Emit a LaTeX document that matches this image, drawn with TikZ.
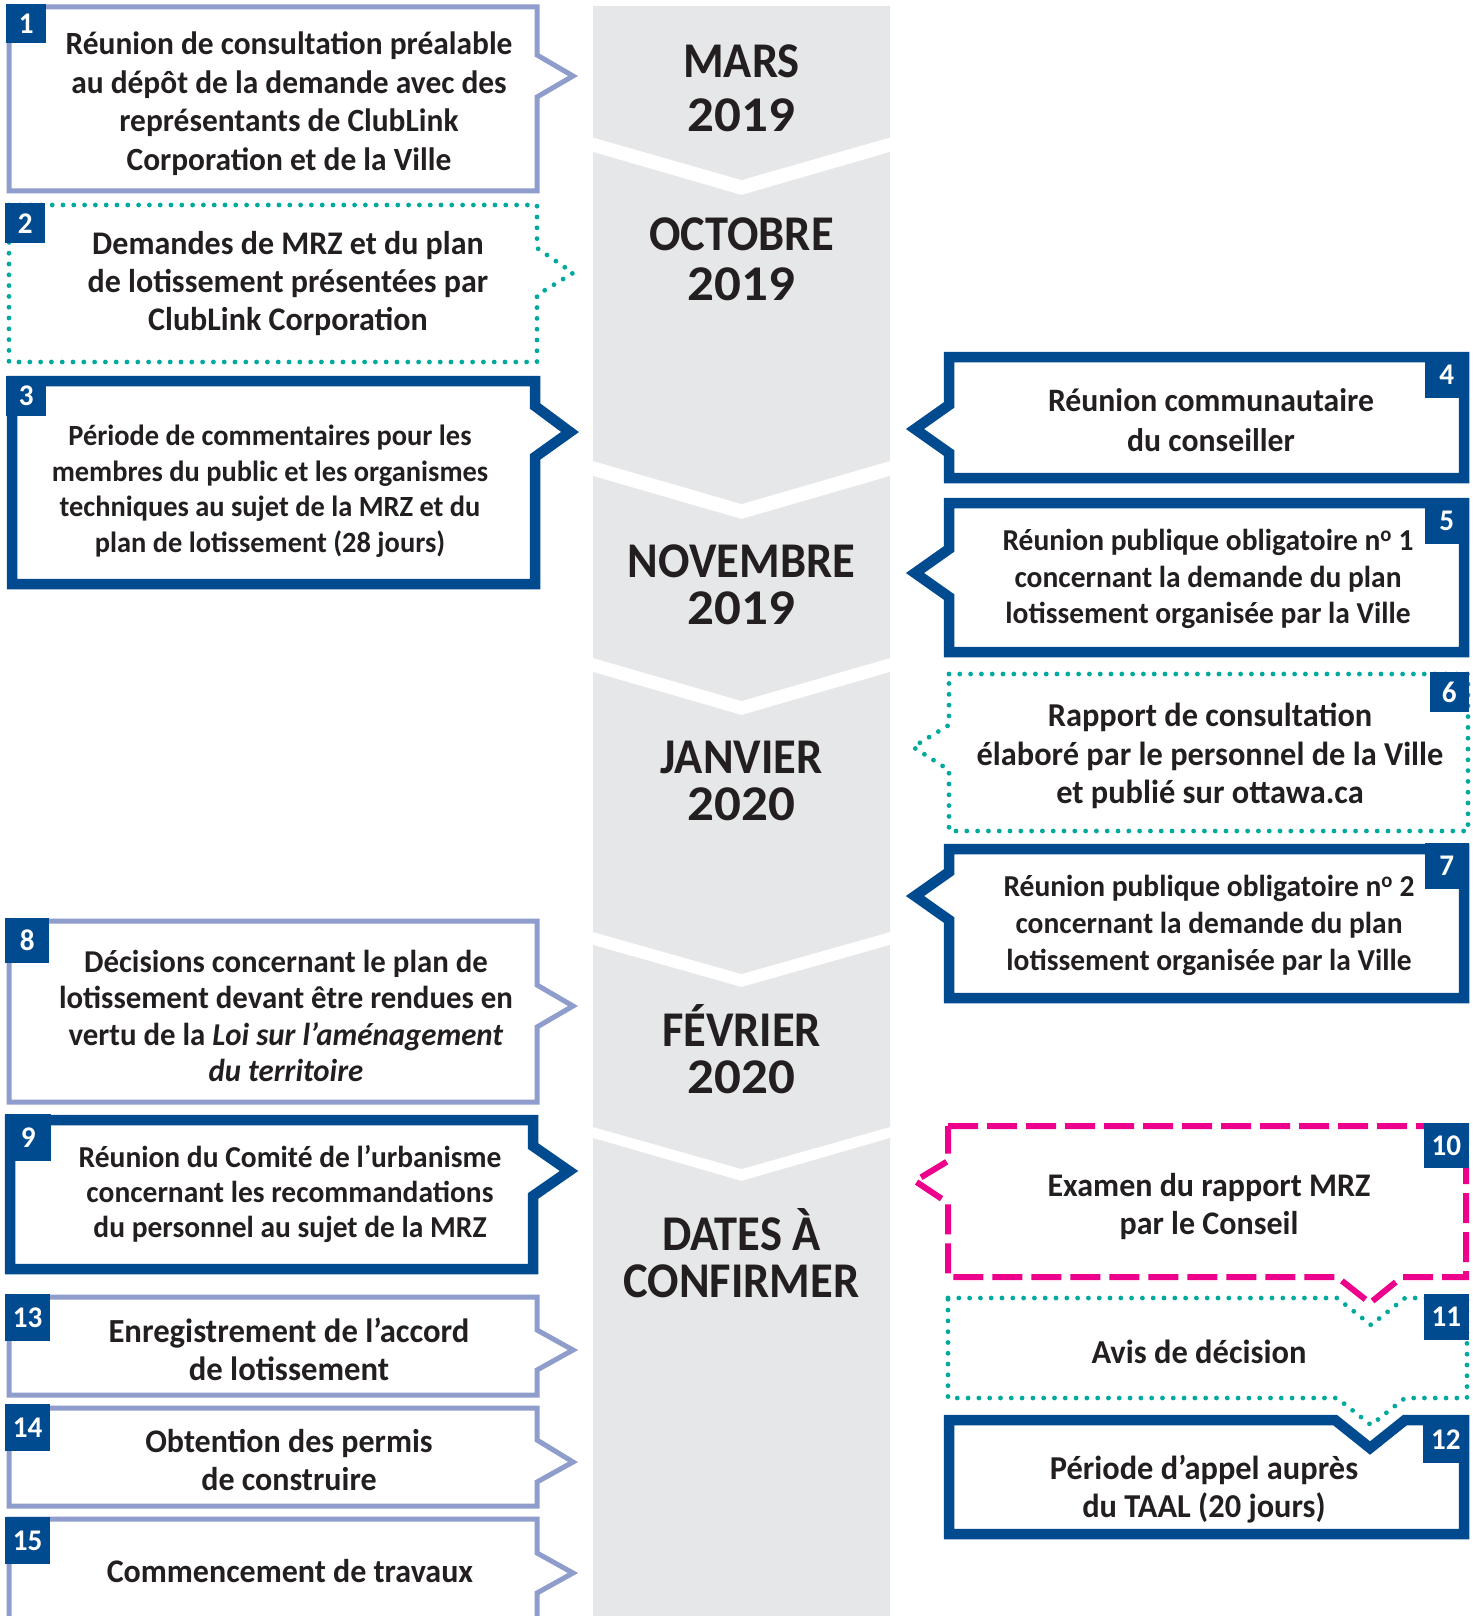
\documentclass[tikz,border=0pt]{standalone}
\usepackage{fontspec}
\setmainfont{Carlito}[FakeStretch=0.97]
\newfontfamily\monthfont{Carlito}[FakeStretch=0.93]
\newfontfamily\yearfont{Carlito}[FakeStretch=1.06]
\usepackage{tikz}
\usetikzlibrary{calc}
\definecolor{darkblue}{RGB}{0,74,144}
\definecolor{liteblue}{RGB}{142,157,203}
\definecolor{dotteal}{RGB}{0,169,157}
\definecolor{hotpink}{RGB}{236,0,140}
\definecolor{colgray}{RGB}{230,231,232}
\definecolor{ink}{RGB}{35,31,32}

\begin{document}
\begin{tikzpicture}[x=1pt,y=-1pt,line join=miter,every node/.style={align=center,text=ink,font=\fontsize{33}{38}\selectfont\bfseries}]
\tikzstyle{lite} = [draw=liteblue, line width=5pt]
\tikzstyle{dark} = [draw=darkblue, line width=10.5pt]
\tikzstyle{dots} = [draw=dotteal, line width=4.8pt, line cap=round, dash pattern=on 0pt off 10.8pt]
\tikzstyle{dashes} = [draw=hotpink, line width=6pt, dash pattern=on 30pt off 9pt]
\tikzstyle{badge} = [fill=darkblue, text=white, minimum width=42pt, minimum height=42pt, inner sep=0pt, font=\fontsize{30}{30}\selectfont\bfseries]
\tikzstyle{month} = [font=\monthfont\fontsize{50}{47}\selectfont\bfseries]
\tikzstyle{small} = [font=\fontsize{30}{35}\selectfont\bfseries]

\clip (0,0) rectangle (1478,1616);

% timeline column
\foreach \ya/\ca/\yb/\cb in {6/0/137.5/42.5, 152/43/461/43, 476/43/658/43, 672/43/932/42, 945/42/1127/42, 1138/43/1680/0}
  \fill[colgray] (593,\ya) -- (741.5,\ya+\ca) -- (890,\ya) -- (890,\yb) -- (741.5,\yb+\cb) -- (593,\yb) -- cycle;

\node[month, font=\monthfont\fontsize{50}{54}\selectfont\bfseries] (mar) at (741.5,88.5) {MARS\\{\yearfont 2019}};
\node[month, font=\monthfont\fontsize{50}{50}\selectfont\bfseries] (oct) at (741.5,259) {OCTOBRE\\{\yearfont 2019}};
\node[month] (nov) at (741.5,585) {NOVEMBRE\\{\yearfont 2019}};
\node[month] (jan) at (741.5,781) {JANVIER\\{\yearfont 2020}};
\node[month] (feb) at (741.5,1049.5) {FÉVRIER\\{\yearfont 2020}};
\node[month] (tbc) at (741.5,1253) {DATES À\\CONFIRMER};

% left side
\draw[lite] (9,7) -- (537,7) -- (537,55) -- (573,76) -- (537,97) -- (537,191) -- (9,191) -- cycle;
\draw[dots] (9,205) -- (537,205) -- (537,248) -- (573,273) -- (537,295) -- (537,362) -- (9,362) -- cycle;
\draw[dark] (12,381) -- (535,381) -- (535,406) -- (570,432) -- (535,457) -- (535,584) -- (12,584) -- cycle;
\draw[lite] (9,921) -- (537,921) -- (537,985) -- (573,1006) -- (537,1027) -- (537,1102) -- (9,1102) -- cycle;
\draw[dark] (10,1120) -- (533,1120) -- (533,1146) -- (569,1171) -- (533,1196) -- (533,1269) -- (10,1269) -- cycle;
\draw[lite] (9,1297) -- (537,1297) -- (537,1330) -- (573,1350) -- (537,1370) -- (537,1395) -- (9,1395) -- cycle;
\draw[lite] (9,1408) -- (537,1408) -- (537,1440) -- (573,1462) -- (537,1482) -- (537,1506) -- (9,1506) -- cycle;
\draw[lite] (9,1519) -- (537,1519) -- (537,1553) -- (573,1573) -- (537,1593) -- (537,1650) -- (9,1650) -- cycle;

% right side
\draw[dark] (949,357) -- (1464,357) -- (1464,478) -- (949,478) -- (949,453) -- (915,429) -- (949,405) -- cycle;
\draw[dark] (949,503) -- (1464,503) -- (1464,652) -- (949,652) -- (949,597) -- (915,573) -- (949,549) -- cycle;
\draw[dots] (949,674) -- (1468,674) -- (1468,831) -- (949,831) -- (949,770) -- (913,747) -- (949,725) -- cycle;
\draw[dark] (949,849) -- (1464,849) -- (1464,998) -- (949,998) -- (949,920) -- (915,896) -- (949,872) -- cycle;
\draw[dashes] (948,1126) -- (1466,1126) -- (1466,1277) -- (1402,1277) -- (1370,1303) -- (1337,1277) -- (948,1277) -- (948,1203) -- (915,1181) -- (948,1161) -- cycle;
\draw[dots] (948,1298) -- (1337,1298) -- (1371,1325) -- (1405,1298) -- (1467,1298) -- (1467,1398) -- (1405,1398) -- (1371,1425) -- (1337,1398) -- (948,1398) -- cycle;
\draw[dark] (949,1420) -- (1335,1420) -- (1370,1448) -- (1405,1420) -- (1464,1420) -- (1464,1534) -- (949,1534) -- cycle;

% numbers
\node[badge, anchor=north west, minimum width=40pt, minimum height=39pt] (b1) at (6,4) {1};
\node[badge, anchor=north west, minimum width=40pt, minimum height=40pt] (b2) at (5,203) {2};
\node[badge, anchor=north west, minimum width=40pt, minimum height=40pt] (b3) at (6,376) {3};
\node[badge, anchor=north east, minimum width=44pt, minimum height=46pt] (b4) at (1469,352) {4};
\node[badge, anchor=north east, minimum width=44pt, minimum height=46pt] (b5) at (1469,498) {5};
\node[badge, anchor=north east, minimum width=39pt, minimum height=40pt] (b6) at (1469,672) {6};
\node[badge, anchor=north east, minimum width=44pt, minimum height=46pt] (b7) at (1469,843) {7};
\node[badge, anchor=north west, minimum width=44pt, minimum height=45pt] (b8) at (5,918) {8};
\node[badge, anchor=north west, minimum width=46pt, minimum height=47pt] (b9) at (5,1114) {9};
\node[badge, anchor=north east, minimum width=45pt, minimum height=45pt] (b10) at (1469,1123) {10};
\node[badge, anchor=north east, minimum width=45pt, minimum height=46pt] (b11) at (1469,1294) {11};
\node[badge, anchor=north east, minimum width=46pt, minimum height=48pt] (b12) at (1469,1415) {12};
\node[badge, anchor=north west, minimum width=45pt, minimum height=47pt] (b13) at (5,1294) {13};
\node[badge, anchor=north west, minimum width=45pt, minimum height=47pt] (b14) at (5,1404) {14};
\node[badge, anchor=north west, minimum width=45pt, minimum height=47pt] (b15) at (5,1517) {15};

% texts
\node[font=\fontsize{32.4}{38.5}\selectfont\bfseries] (t1) at (289,103.5) {Réunion de consultation préalable\\au dépôt de la demande avec des\\représentants de ClubLink\\Corporation et de la Ville};
\node (t2) at (288,284) {Demandes de MRZ et du plan\\de lotissement présentées par\\ClubLink Corporation};
\node[font=\fontsize{29.3}{35.5}\selectfont\bfseries] (t3) at (270,491) {Période de commentaires pour les\\membres du public et les organismes\\techniques au sujet de la MRZ et du\\plan de lotissement (28 jours)};
\node[font=\fontsize{32.7}{40}\selectfont\bfseries] (t4) at (1211,420) {Réunion communautaire\\du conseiller};
\node[font=\fontsize{30.4}{36.5}\selectfont\bfseries] (t5) at (1208,579) {Réunion publique obligatoire n\textsuperscript{o}~1\\concernant la demande du plan\\lotissement organisée par la Ville};
\node[font=\fontsize{33.4}{38.5}\selectfont\bfseries] (t6) at (1210,756) {Rapport de consultation\\élaboré par le personnel de la Ville\\et publié sur ottawa.ca};
\node[font=\fontsize{30.4}{37}\selectfont\bfseries] (t7) at (1209,925) {Réunion publique obligatoire n\textsuperscript{o}~2\\concernant la demande du plan\\lotissement organisée par la Ville};
\node[font=\fontsize{31.8}{36.5}\selectfont\bfseries] (t8) at (286,1016) {Décisions concernant le plan de\\lotissement devant être rendues en\\vertu de la \textit{Loi sur l’aménagement}\\\textit{du territoire}};
\node[font=\fontsize{30.4}{35}\selectfont\bfseries] (t9) at (290,1194) {Réunion du Comité de l’urbanisme\\concernant les recommandations\\du personnel au sujet de la MRZ};
\node (t10) at (1209,1206.5) {Examen du rapport MRZ\\par le Conseil};
\node[font=\fontsize{33.5}{38}\selectfont\bfseries] (t11) at (1199,1352) {Avis de décision};
\node[font=\fontsize{33.4}{38.5}\selectfont\bfseries] (t12) at (1204,1489) {Période d’appel auprès\\du TAAL (20 jours)};
\node[font=\fontsize{33.7}{38.5}\selectfont\bfseries] (t13) at (289,1349.5) {Enregistrement de l’accord\\de lotissement};
\node (t14) at (289,1460) {Obtention des permis\\de construire};
\node (t15) at (290,1571) {Commencement de travaux};
\end{tikzpicture}
\end{document}
